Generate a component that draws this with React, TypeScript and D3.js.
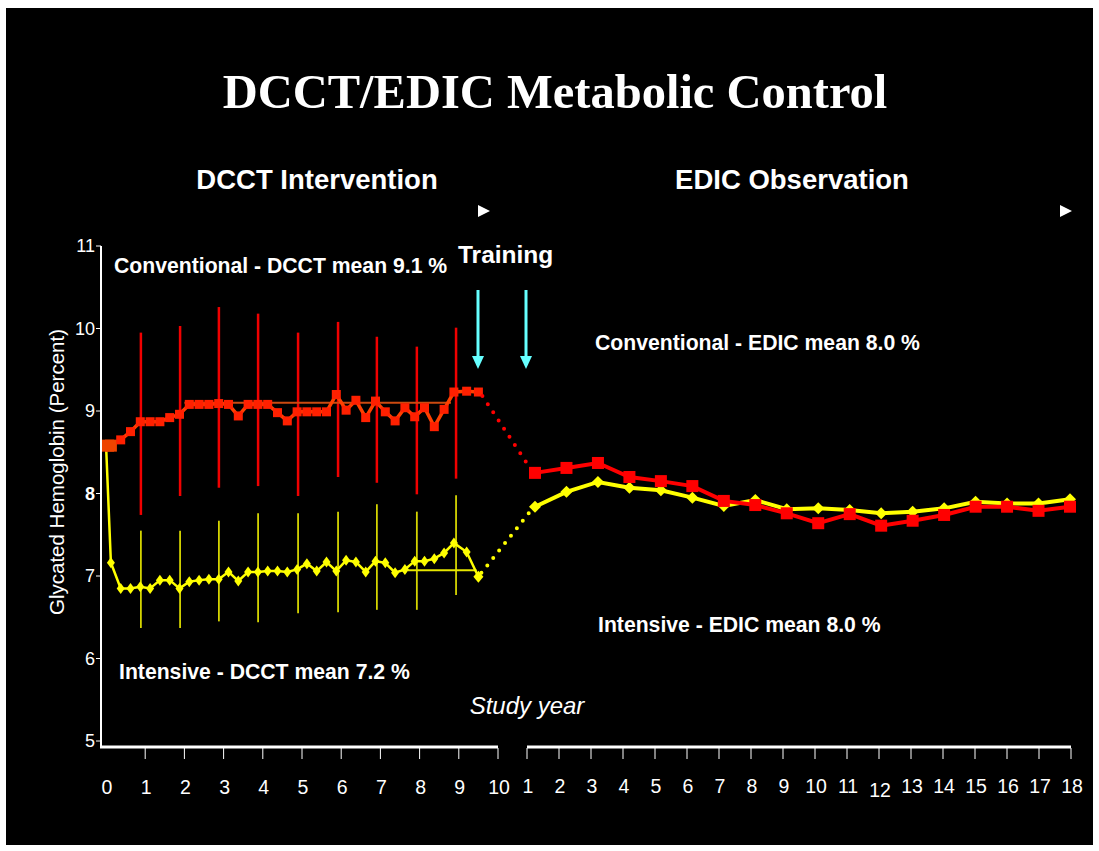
import React from 'react';
import * as d3 from 'd3';

const W = 1099;
const H = 851;

// DCCT phase: study year of each quarterly visit and mean HbA1c (%)
const dcctYears = [
  0, 0.125, 0.375, 0.625, 0.875, 1.125, 1.375, 1.625, 1.875, 2.125, 2.375, 2.625, 2.875,
  3.125, 3.375, 3.625, 3.875, 4.125, 4.375, 4.625, 4.875, 5.125, 5.375, 5.625, 5.875,
  6.125, 6.375, 6.625, 6.875, 7.125, 7.375, 7.625, 7.875, 8.125, 8.375, 8.625, 8.875, 9.2, 9.5,
];
const dcctConventional = [
  8.58, 8.58, 8.65, 8.75, 8.87, 8.87, 8.87, 8.92, 8.96, 9.08, 9.08, 9.08, 9.09,
  9.08, 8.94, 9.08, 9.08, 9.08, 8.98, 8.88, 8.99, 8.99, 8.99, 8.99, 9.2,
  9.01, 9.13, 8.92, 9.12, 8.99, 8.88, 9.04, 8.93, 9.04, 8.81, 9.02, 9.23, 9.24, 9.23,
];
const dcctIntensive = [
  8.6, 7.16, 6.85, 6.85, 6.87, 6.85, 6.95, 6.95, 6.85, 6.93, 6.95, 6.96, 6.96,
  7.05, 6.94, 7.05, 7.05, 7.06, 7.06, 7.05, 7.08, 7.15, 7.06, 7.17, 7.06,
  7.19, 7.17, 7.05, 7.18, 7.16, 7.04, 7.08, 7.18, 7.18, 7.21, 7.28, 7.4, 7.29, 6.99,
];

// yearly spread bars during DCCT
const barYears = [0.89, 1.89, 2.88, 3.88, 4.9, 5.92, 6.91, 7.93, 8.93];
const convBarHigh = [9.95, 10.03, 10.26, 10.18, 9.95, 10.08, 9.9, 9.78, 10.01];
const convBarLow = [7.74, 7.97, 8.07, 8.09, 7.97, 8.2, 8.13, 7.99, 8.18];
const intBarHigh = [7.55, 7.55, 7.67, 7.76, 7.76, 7.78, 7.87, 7.78, 7.98];
const intBarLow = [6.37, 6.37, 6.45, 6.44, 6.55, 6.56, 6.59, 6.59, 6.77];

// DCCT mean reference segments
const convMean = 9.1;
const convMeanYears = [2.0, 8.8];
const intMean = 7.07;
const intMeanYears = [7.7, 9.45];

// EDIC phase
const edicYears = [1, 2, 3, 4, 5, 6, 7, 8, 9, 10, 11, 12, 13, 14, 15, 16, 17, 18];
const edicConventional = [8.25, 8.31, 8.37, 8.2, 8.15, 8.09, 7.91, 7.86, 7.76, 7.64, 7.75, 7.61, 7.67, 7.74, 7.84, 7.84, 7.79, 7.84];
const edicIntensive = [7.84, 8.02, 8.14, 8.07, 8.04, 7.95, 7.85, 7.92, 7.81, 7.82, 7.8, 7.76, 7.78, 7.82, 7.9, 7.88, 7.88, 7.93];

const yTicks = [5, 6, 7, 8, 9, 10, 11];
const dcctTicks = [0, 1, 2, 3, 4, 5, 6, 7, 8, 9, 10];
const edicTicks = [1, 2, 3, 4, 5, 6, 7, 8, 9, 10, 11, 12, 13, 14, 15, 16, 17, 18];

const SANS = 'Liberation Sans, Arial, sans-serif';
const SERIF = 'Liberation Serif, Times New Roman, serif';

const y = d3.scaleLinear().domain([5, 11]).range([741, 246]);
const xD = d3.scaleLinear().domain([0, 10]).range([106, 498]);
const xEAxis = d3.scaleLinear().domain([1, 18]).range([527, 1071]);
const xE = d3.scaleLinear().domain([1, 18]).range([535, 1070]);

const diamond = (cx: number, cy: number, hw: number, hh: number) =>
  `M${cx},${cy - hh}L${cx + hw},${cy}L${cx},${cy + hh}L${cx - hw},${cy}Z`;

export default function App() {
  const lineD = d3.line<number>().x((_, i) => xD(dcctYears[i])).y((v) => y(v));
  const lineE = d3.line<number>().x((_, i) => xE(edicYears[i])).y((v) => y(v));
  const last = dcctYears.length - 1;

  return (
    <svg width={W} height={H} style={{ position: 'absolute', left: 0, top: 0 }}>
      <rect x={0} y={0} width={W} height={H} fill="#fff" />
      <rect x={6} y={8} width={1087} height={837} fill="#000" />

      <text x={555} y={108} textAnchor="middle" fill="#fff" fontFamily={SERIF} fontWeight="bold" fontSize={48.5}>
        DCCT/EDIC Metabolic Control
      </text>
      <text x={317} y={189} textAnchor="middle" fill="#fff" fontFamily={SANS} fontWeight="bold" fontSize={27.5}>
        DCCT Intervention
      </text>
      <text x={792} y={189} textAnchor="middle" fill="#fff" fontFamily={SANS} fontWeight="bold" fontSize={27.5}>
        EDIC Observation
      </text>
      <path d="M478,205L490,211L478,217Z" fill="#fff" />
      <path d="M1060,205L1072,211L1060,217Z" fill="#fff" />

      {/* training arrows */}
      <text x={458} y={263} fill="#fff" fontFamily={SANS} fontWeight="bold" fontSize={24.5}>Training</text>
      {[478, 526].map((ax) => (
        <g key={ax}>
          <line x1={ax} x2={ax} y1={290} y2={358} stroke="#66ffff" strokeWidth={3} />
          <path d={`M${ax - 6},356L${ax + 6},356L${ax},369Z`} fill="#66ffff" />
        </g>
      ))}

      {/* y axis */}
      <line x1={101} x2={101} y1={y(11)} y2={748} stroke="#fff" strokeWidth={2} />
      {yTicks.map((t) => (
        <g key={t}>
          <line x1={96} x2={101} y1={y(t)} y2={y(t)} stroke="#fff" strokeWidth={1} />
          <text x={95} y={y(t) + 6} textAnchor="end" fill="#fff" fontFamily={SANS} fontSize={18} fontWeight={t === 8 ? 'bold' : 'normal'}>
            {t}
          </text>
        </g>
      ))}
      <text transform="translate(64,472) rotate(-90)" textAnchor="middle" fill="#fff" fontFamily={SANS} fontSize={20.5}>
        Glycated Hemoglobin  (Percent)
      </text>

      {/* x axes */}
      <line x1={100} x2={xD(10)} y1={747} y2={747} stroke="#fff" strokeWidth={3} />
      {dcctTicks.map((t) => (
        <g key={t}>
          {t > 0 && <line x1={xD(t)} x2={xD(t)} y1={748} y2={759} stroke="#fff" strokeWidth={1} />}
          <text x={xD(t) + 1} y={794} textAnchor="middle" fill="#fff" fontFamily={SANS} fontSize={19.5}>{t}</text>
        </g>
      ))}
      <line x1={xEAxis(1)} x2={xEAxis(18)} y1={747} y2={747} stroke="#fff" strokeWidth={3} />
      {edicTicks.map((t) => (
        <g key={t}>
          <line x1={xEAxis(t)} x2={xEAxis(t)} y1={748} y2={759} stroke="#fff" strokeWidth={1} />
          <text x={xEAxis(t) + 1} y={t === 12 ? 797 : 793} textAnchor="middle" fill="#fff" fontFamily={SANS} fontSize={19.5}>{t}</text>
        </g>
      ))}
      <text x={527} y={714} textAnchor="middle" fill="#fff" fontFamily={SANS} fontStyle="italic" fontSize={24}>Study year</text>

      {/* spread bars */}
      {barYears.map((t, i) => (
        <g key={t}>
          <line x1={xD(t)} x2={xD(t)} y1={y(convBarHigh[i])} y2={y(convBarLow[i])} stroke="#f00000" strokeWidth={2.5} />
          <line x1={xD(t)} x2={xD(t)} y1={y(intBarHigh[i])} y2={y(intBarLow[i])} stroke="#d4d400" strokeWidth={1.8} />
        </g>
      ))}

      {/* DCCT intensive */}
      <line x1={xD(intMeanYears[0])} x2={xD(intMeanYears[1])} y1={y(intMean)} y2={y(intMean)} stroke="#e6e600" strokeWidth={2} />
      <path d={lineD(dcctIntensive) ?? ''} fill="none" stroke="#ffff00" strokeWidth={2.5} />
      {dcctIntensive.slice(1).map((v, i) => (
        <path key={i} d={diamond(xD(dcctYears[i + 1]), y(v), i === last - 1 ? 5 : 4, i === last - 1 ? 6 : 5.5)} fill="#ffff00" />
      ))}

      {/* DCCT conventional */}
      <line x1={xD(convMeanYears[0])} x2={xD(convMeanYears[1])} y1={y(convMean)} y2={y(convMean)} stroke="#cc4a10" strokeWidth={2} />
      <path d={lineD(dcctConventional) ?? ''} fill="none" stroke="#ff4000" strokeWidth={3.5} />
      {dcctConventional.map((v, i) => {
        const s = i < 2 ? 12 : 9;
        return (
          <rect key={i} x={xD(dcctYears[i]) - s / 2 + (i === 0 ? 2 : 0)} y={y(v) - s / 2} width={s} height={s} fill={i < 2 ? '#ee4400' : '#ff2000'} />
        );
      })}

      {/* bridges between phases */}
      <line x1={xD(dcctYears[last]) + 3} y1={y(dcctIntensive[last]) - 4} x2={xE(1) - 5} y2={y(edicIntensive[0]) + 5}
        stroke="#ffff00" strokeWidth={4} strokeDasharray="0 9.5" strokeLinecap="round" />
      <line x1={xD(dcctYears[last]) + 4} y1={y(dcctConventional[last]) + 4} x2={xE(1) - 5} y2={y(edicConventional[0]) - 5}
        stroke="#ff0000" strokeWidth={4} strokeDasharray="0 9.8" strokeLinecap="round" />

      {/* EDIC */}
      <path d={lineE(edicIntensive) ?? ''} fill="none" stroke="#ffff00" strokeWidth={4} />
      {edicIntensive.map((v, i) => (
        <path key={i} d={diamond(xE(edicYears[i]), y(v), 6, 6)} fill="#ffff00" />
      ))}
      <path d={lineE(edicConventional) ?? ''} fill="none" stroke="#ff0000" strokeWidth={4} />
      {edicConventional.map((v, i) => (
        <rect key={i} x={xE(edicYears[i]) - 6} y={y(v) - 6} width={12} height={12} fill="#ff0000" />
      ))}

      {/* annotations */}
      <text x={114} y={273} fill="#fff" fontFamily={SANS} fontWeight="bold" fontSize={21.2}>Conventional - DCCT mean 9.1 %</text>
      <text x={595} y={350} fill="#fff" fontFamily={SANS} fontWeight="bold" fontSize={21.2}>Conventional - EDIC mean 8.0 %</text>
      <text x={598} y={632} fill="#fff" fontFamily={SANS} fontWeight="bold" fontSize={21.2}>Intensive - EDIC mean 8.0 %</text>
      <text x={119} y={679} fill="#fff" fontFamily={SANS} fontWeight="bold" fontSize={21.2}>Intensive - DCCT mean 7.2 %</text>
    </svg>
  );
}
